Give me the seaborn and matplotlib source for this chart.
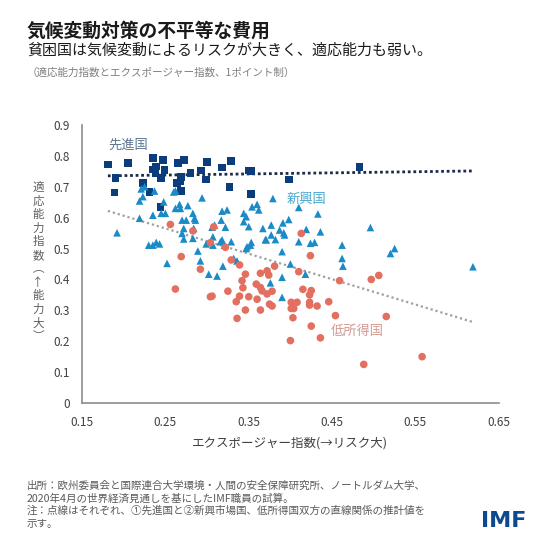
import numpy as np
import pandas as pd
import matplotlib
matplotlib.use("Agg")
import matplotlib.pyplot as plt
import seaborn as sns

# values (exposure index, adaptive capacity index)
adv_x = [0.181, 0.205, 0.235, 0.247, 0.239, 0.235, 0.249, 0.238, 0.245, 0.265,
         0.272, 0.300, 0.318, 0.329, 0.293, 0.280, 0.269, 0.268, 0.264, 0.299,
         0.190, 0.189, 0.223, 0.231, 0.269, 0.327, 0.350, 0.353, 0.353, 0.244,
         0.483, 0.398]
adv_y = [0.772, 0.776, 0.794, 0.786, 0.765, 0.756, 0.754, 0.743, 0.729, 0.776,
         0.786, 0.781, 0.762, 0.784, 0.752, 0.745, 0.732, 0.719, 0.713, 0.724,
         0.729, 0.681, 0.713, 0.684, 0.687, 0.699, 0.753, 0.751, 0.676, 0.635,
         0.763, 0.724]

emg_x = [0.221, 0.225, 0.237, 0.262, 0.260, 0.223, 0.219, 0.294, 0.248, 0.267,
         0.277, 0.262, 0.268, 0.245, 0.250, 0.235, 0.219, 0.283, 0.285, 0.286,
         0.270, 0.275, 0.272, 0.284, 0.270, 0.272, 0.283, 0.299, 0.289, 0.230,
         0.235, 0.239, 0.243, 0.192, 0.318, 0.324, 0.317, 0.322, 0.344, 0.347,
         0.354, 0.360, 0.362, 0.344, 0.350, 0.367, 0.377, 0.379, 0.377, 0.371,
         0.353, 0.352, 0.348, 0.318, 0.329, 0.316, 0.307, 0.307, 0.321, 0.410,
         0.433, 0.398, 0.391, 0.387, 0.392, 0.393, 0.370, 0.382, 0.419, 0.410,
         0.424, 0.429, 0.436, 0.347, 0.390, 0.462, 0.462, 0.463, 0.400, 0.418,
         0.390, 0.376, 0.390, 0.319, 0.312, 0.302, 0.292, 0.336, 0.332, 0.252,
         0.306, 0.309, 0.496, 0.525, 0.520, 0.619]
emg_y = [0.693, 0.700, 0.686, 0.687, 0.683, 0.668, 0.654, 0.664, 0.651, 0.643,
         0.639, 0.630, 0.630, 0.614, 0.614, 0.608, 0.598, 0.614, 0.598, 0.592,
         0.592, 0.592, 0.565, 0.565, 0.549, 0.531, 0.533, 0.515, 0.492, 0.511,
         0.511, 0.520, 0.515, 0.551, 0.621, 0.625, 0.592, 0.569, 0.614, 0.603,
         0.635, 0.643, 0.625, 0.587, 0.571, 0.565, 0.576, 0.662, 0.544, 0.528,
         0.520, 0.511, 0.506, 0.528, 0.522, 0.522, 0.538, 0.511, 0.511, 0.633,
         0.612, 0.594, 0.583, 0.560, 0.551, 0.544, 0.529, 0.529, 0.562, 0.522,
         0.517, 0.520, 0.554, 0.500, 0.490, 0.511, 0.468, 0.443, 0.450, 0.417,
         0.407, 0.389, 0.342, 0.443, 0.411, 0.417, 0.460, 0.460, 0.468, 0.452,
         0.569, 0.576, 0.568, 0.500, 0.484, 0.441]

low_x = [0.256, 0.283, 0.308, 0.304, 0.322, 0.269, 0.292, 0.329, 0.339, 0.346,
         0.364, 0.372, 0.374, 0.381, 0.342, 0.359, 0.343, 0.364, 0.366, 0.372,
         0.378, 0.325, 0.304, 0.306, 0.339, 0.350, 0.360, 0.335, 0.375, 0.413,
         0.424, 0.410, 0.459, 0.415, 0.425, 0.423, 0.401, 0.408, 0.423, 0.423,
         0.432, 0.446, 0.378, 0.346, 0.364, 0.336, 0.401, 0.404, 0.403, 0.454,
         0.425, 0.436, 0.400, 0.488, 0.497, 0.506, 0.515, 0.558, 0.262]
low_y = [0.578, 0.557, 0.570, 0.519, 0.504, 0.474, 0.433, 0.463, 0.447, 0.417,
         0.420, 0.428, 0.414, 0.443, 0.396, 0.385, 0.373, 0.374, 0.363, 0.353,
         0.362, 0.362, 0.344, 0.346, 0.346, 0.344, 0.336, 0.328, 0.320, 0.549,
         0.477, 0.425, 0.396, 0.368, 0.364, 0.350, 0.326, 0.326, 0.326, 0.317,
         0.314, 0.328, 0.314, 0.301, 0.301, 0.274, 0.306, 0.306, 0.276, 0.283,
         0.249, 0.211, 0.202, 0.125, 0.400, 0.413, 0.280, 0.150, 0.369]

groups = ["先進国", "新興国", "低所得国"]
x_ticks = [0.15, 0.25, 0.35, 0.45, 0.55, 0.65]
y_ticks = [0, 0.1, 0.2, 0.3, 0.4, 0.5, 0.6, 0.7, 0.8, 0.9]

df = pd.DataFrame({
    "x": adv_x + emg_x + low_x,
    "y": adv_y + emg_y + low_y,
    "group": [groups[0]] * len(adv_x) + [groups[1]] * len(emg_x) + [groups[2]] * len(low_x),
})

colors = {"先進国": "#0b3d7c", "新興国": "#1b8bc8", "低所得国": "#e26f5f"}
markers = {"先進国": "s", "新興国": "^", "低所得国": "o"}

sns.set_theme(style="white")
plt.rcParams["font.family"] = ["Noto Sans CJK JP", "DejaVu Sans"]

fig = plt.figure(figsize=(5.52, 5.52), dpi=100)
ax = fig.add_axes([0.1486, 0.2699, 0.755, 0.5037])

sns.scatterplot(data=df, x="x", y="y", hue="group", style="group",
                palette=colors, markers=markers, s=30, linewidth=0,
                legend=False, ax=ax, zorder=3)

# trend lines: advanced alone, and emerging + low income together
x0, x1 = df["x"].min(), df["x"].max()
xs = np.array([x0, x1])
p_adv = np.polyfit(adv_x, adv_y, 1)
p_rest = np.polyfit(emg_x + low_x, emg_y + low_y, 1)
ax.plot(xs, np.polyval(p_adv, xs), color="#1c2b4a", lw=2, ls=(0, (1, 1)), zorder=2)
ax.plot(xs, np.polyval(p_rest, xs), color="#a0a0a0", lw=1.6, ls=(0, (1, 1.3)), zorder=2)

# group labels
ax.text(0.182, 0.835, "先進国", color="#5a7593", fontsize=9.5, va="center")
ax.text(0.395, 0.660, "新興国", color="#4aa6cc", fontsize=9.5, va="center")
ax.text(0.448, 0.230, "低所得国", color="#d39b92", fontsize=9.5, va="center")

ax.set_xlim(0.15, 0.65)
ax.set_ylim(0, 0.9)
ax.set_xticks(x_ticks)
ax.set_xticklabels([f"{t:.2f}" for t in x_ticks])
ax.set_yticks(y_ticks)
ax.set_yticklabels(["0"] + [f"{t:.1f}" for t in y_ticks[1:]])
ax.tick_params(length=0, labelsize=8.5, colors="#404040", pad=9)
ax.set_xlabel("エクスポージャー指数(→リスク大)", fontsize=9, color="#404040", labelpad=6)
ax.set_ylabel("")
for s in ["top", "right"]:
    ax.spines[s].set_visible(False)
for s in ["left", "bottom"]:
    ax.spines[s].set_color("#8c8c8c")
    ax.spines[s].set_linewidth(1.2)

# vertical (upright) y label
fig.text(38 / 552, 1 - 262 / 552, "\n".join("適応能力指数︵↑能力大︶"),
         fontsize=8.3, color="#606060", ha="center", va="center", linespacing=1.05)

# titles
fig.text(27 / 552, 1 - 31 / 552, "気候変動対策の不平等な費用", fontsize=13.5,
         fontweight="bold", color="#1a1a1a", va="center")
fig.text(27 / 552, 1 - 51 / 552, "貧困国は気候変動によるリスクが大きく、適応能力も弱い。",
         fontsize=10.8, color="#1a1a1a", va="center")
fig.text(27 / 552, 1 - 73 / 552, "（適応能力指数とエクスポージャー指数、1ポイント制）",
         fontsize=7.6, color="#7f7f7f", va="center")

# footer
notes = ["出所：欧州委員会と国際連合大学環境・人間の安全保障研究所、ノートルダム大学、",
         "2020年4月の世界経済見通しを基にしたIMF職員の試算。",
         "注：点線はそれぞれ、①先進国と②新興市場国、低所得国双方の直線関係の推計値を",
         "示す。"]
for i, line in enumerate(notes):
    fig.text(27 / 552, 1 - (486 + 12.5 * i) / 552, line, fontsize=7.6,
             color="#595959", va="center")

fig.text(504 / 552, 1 - 521 / 552, "IMF", fontsize=16, fontweight="bold",
         color="#0c4a8d", ha="center", va="center", family="DejaVu Sans")

fig.savefig("out.png", dpi=100)
